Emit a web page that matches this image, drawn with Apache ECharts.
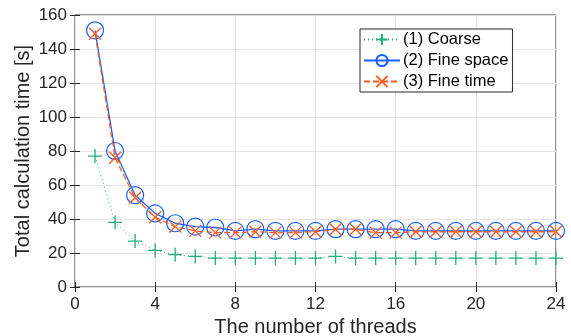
<!DOCTYPE html>
<html>
<head>
<meta charset="utf-8">
<script src="https://cdn.jsdelivr.net/npm/echarts@6/dist/echarts.min.js"></script>
<style>
  html, body { margin: 0; padding: 0; background: #fff; }
  #chart { width: 571px; height: 336px; }
</style>
</head>
<body>
<div id="chart"></div>
<script>
const threads = [1, 2, 3, 4, 5, 6, 7, 8, 9, 10, 11, 12, 13, 14, 15, 16, 17, 18, 19, 20, 21, 22, 23, 24]
const coarse = [77, 38, 27, 21.5, 19, 18, 17, 17, 17, 17, 17, 17, 18, 17, 17, 17, 17, 17, 17, 17, 17, 17, 17, 17]
const fineSpace = [151, 80, 54, 43.3, 37.5, 35.5, 35, 33, 34, 33, 33, 33, 34, 34, 34, 34, 33, 33, 33, 33, 33, 33, 33, 33]
const fineTime = [149, 76, 52.5, 41, 35.5, 33, 32, 32, 32.5, 32, 32, 32.5, 34, 34, 32, 32, 32.5, 32.5, 32.5, 32.5, 32.5, 32.5, 32.5, 32.5]
const seriesNames = ['(1) Coarse', '(2) Fine space', '(3) Fine time']

const font = 'Liberation Sans, Arial, sans-serif'
const ink = '#262626'
const plusPath = 'path://M5,0L5,10M0,5L10,5'
const crossPath = 'path://M0,0L10,10M10,0L0,10'

const pairs = (ys) => threads.map((t, i) => [t, ys[i]])

const chart = echarts.init(document.getElementById('chart'))
chart.setOption({
  animation: false,
  grid: {
    left: 75, right: 15, top: 15, bottom: 49,
    outerBoundsMode: 'none',
    show: true, borderColor: ink, borderWidth: 1,
  },
  legend: {
    orient: 'vertical',
    left: 360, top: 29,
    backgroundColor: '#fff',
    borderColor: ink, borderWidth: 1,
    padding: [2, 4, 2, 3],
    itemWidth: 36, itemHeight: 14, itemGap: 4,
    textStyle: { fontFamily: font, fontSize: 16.5, color: '#000', padding: [0, 0, 0, -2] },
    data: seriesNames,
  },
  xAxis: [
    {
      type: 'value', min: 0, max: 24, interval: 4,
      name: 'The number of threads', nameLocation: 'middle', nameGap: 30,
      nameTextStyle: { fontFamily: font, fontSize: 20, color: ink },
      axisLine: { show: false },
      axisTick: { inside: true, length: 5, lineStyle: { color: ink } },
      axisLabel: { fontFamily: font, fontSize: 17, color: ink, margin: 9 },
      splitLine: { show: true, lineStyle: { color: '#e3e3e3' } },
    },
    {
      type: 'value', min: 0, max: 24, interval: 4, position: 'top',
      axisLine: { show: false },
      axisTick: { inside: true, length: 5, lineStyle: { color: ink } },
      axisLabel: { show: false }, splitLine: { show: false },
    },
  ],
  yAxis: [
    {
      type: 'value', min: 0, max: 160, interval: 20,
      name: 'Total calculation time [s]', nameLocation: 'middle', nameGap: 42,
      nameMoveOverlap: false,
      nameTextStyle: { fontFamily: font, fontSize: 20, color: ink },
      axisLine: { show: false },
      axisTick: { show: true, inside: true, length: 5, lineStyle: { color: ink } },
      axisLabel: { fontFamily: font, fontSize: 17, color: ink, margin: 8 },
      splitLine: { show: true, lineStyle: { color: '#e3e3e3' } },
    },
    {
      type: 'value', min: 0, max: 160, interval: 20, position: 'right',
      axisLine: { show: false },
      axisTick: { show: true, inside: true, length: 5, lineStyle: { color: ink } },
      axisLabel: { show: false }, splitLine: { show: false },
    },
  ],
  series: [
    {
      name: seriesNames[0], type: 'line', data: pairs(coarse),
      symbol: plusPath, symbolSize: 14, z: 3,
      lineStyle: { color: '#22b07a', width: 1, type: [1, 3] },
      itemStyle: { color: 'none', borderColor: '#22b07a', borderWidth: 1.3 },
    },
    {
      name: seriesNames[1], type: 'line', data: pairs(fineSpace),
      symbol: 'circle', symbolSize: 17, z: 4,
      lineStyle: { color: '#1a62ff', width: 1.3 },
      itemStyle: { color: 'none', borderColor: '#1a62ff', borderWidth: 1.2 },
    },
    {
      name: seriesNames[2], type: 'line', data: pairs(fineTime),
      symbol: crossPath, symbolSize: 12, z: 5,
      lineStyle: { color: '#ff5a1f', width: 1.3, type: [6, 3] },
      itemStyle: { color: 'none', borderColor: '#ff5a1f', borderWidth: 1.3 },
    },
  ],
})
</script>
</body>
</html>
